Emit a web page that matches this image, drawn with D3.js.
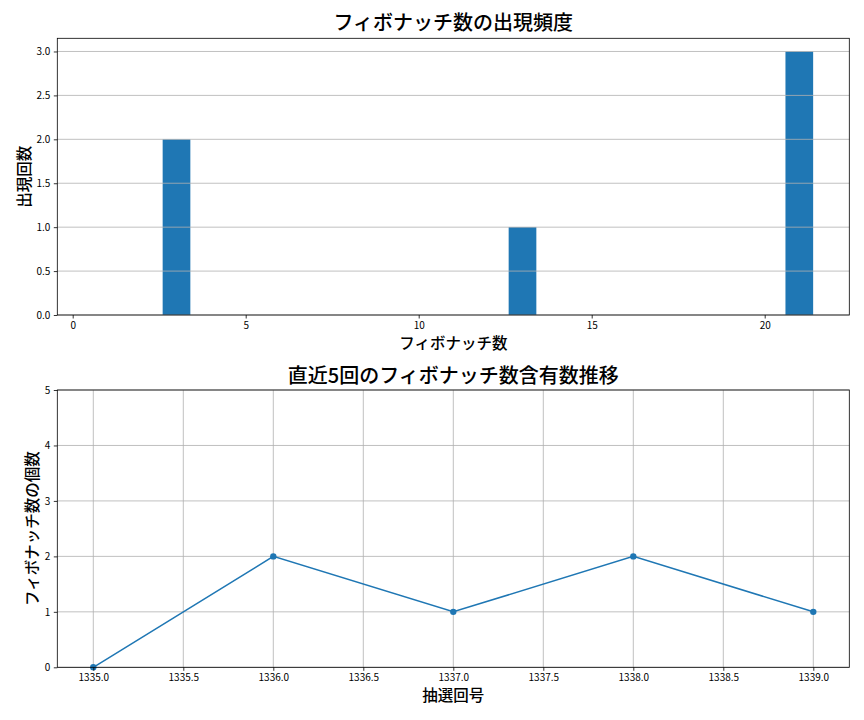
<!DOCTYPE html>
<html lang="ja">
<head>
    <meta charset="UTF-8">
    <title>フィボナッチ数</title>
    <script src="https://d3js.org/d3.v7.min.js"></script>
    <style>
        body { margin: 0; background: #fff; }
        text { font-family: "Noto Sans CJK JP", "Noto Sans", sans-serif; }
        .label { font-weight: 500; }
        .tick text { font-size: 10px; fill: #000; }
        .tick line { stroke: #000; stroke-width: 0.8; }
    </style>
</head>
<body>
    <script>
        // ヒストグラム: フィボナッチ数ごとの出現回数
        var fibNumbers = [1, 2, 3, 5, 8, 13, 21];
        var fibCounts  = [0, 0, 2, 0, 0, 1, 3];
        var histXTicks = [0, 5, 10, 15, 20];
        var histYTicks = [0, 0.5, 1, 1.5, 2, 2.5, 3];

        // 直近5回の推移
        var drawNos   = [1335, 1336, 1337, 1338, 1339];
        var fibInDraw = [0, 2, 1, 2, 1];
        var lineXTicks = [1335, 1335.5, 1336, 1336.5, 1337, 1337.5, 1338, 1338.5, 1339];
        var lineYTicks = [0, 1, 2, 3, 4, 5];

        var w = 864, h = 720;
        var blue = "#1f77b4";
        var gridColor = "#b0b0b0";

        var svg = d3.select("body")
                    .append("svg")
                    .attr("width", w)
                    .attr("height", h);

        var left = 57.3, right = 849.3;

        // ---- top: histogram ----
        var top1 = 38.3, bot1 = 315;
        var x1 = d3.scaleLinear().domain([-0.445, 22.445]).range([left, right]);
        var y1 = d3.scaleLinear().domain([0, 3.15]).range([bot1, top1]);

        var g1 = svg.append("g");

        g1.selectAll("rect.bar")
            .data(fibNumbers)
            .join("rect")
            .attr("class", "bar")
            .attr("x", d => x1(d - 0.4))
            .attr("width", d => x1(d + 0.4) - x1(d - 0.4))
            .attr("y", (d, i) => y1(fibCounts[i]))
            .attr("height", (d, i) => bot1 - y1(fibCounts[i]))
            .attr("fill", blue);

        // horizontal grid (drawn over the bars like matplotlib)
        g1.selectAll("line.grid")
            .data(histYTicks)
            .join("line")
            .attr("class", "grid")
            .attr("x1", left).attr("x2", right)
            .attr("y1", d => y1(d)).attr("y2", d => y1(d))
            .attr("stroke", gridColor)
            .attr("stroke-width", 0.8);

        g1.append("g")
            .attr("transform", "translate(0," + bot1 + ")")
            .call(d3.axisBottom(x1).tickValues(histXTicks).tickSize(3.5).tickPadding(3.5).tickFormat(d3.format("d")))
            .call(g => g.select(".domain").remove());

        g1.append("g")
            .attr("transform", "translate(" + left + ",0)")
            .call(d3.axisLeft(y1).tickValues(histYTicks).tickSize(3.5).tickPadding(3.5).tickFormat(d3.format(".1f")))
            .call(g => g.select(".domain").remove());

        g1.append("rect")
            .attr("x", left).attr("y", top1)
            .attr("width", right - left).attr("height", bot1 - top1)
            .attr("fill", "none").attr("stroke", "#000").attr("stroke-width", 0.8);

        g1.append("text")
            .attr("class", "label")
            .attr("x", (left + right) / 2).attr("y", 30)
            .attr("text-anchor", "middle")
            .style("font-size", "20px")
            .text("フィボナッチ数の出現頻度");

        g1.append("text")
            .attr("class", "label")
            .attr("x", (left + right) / 2).attr("y", 349)
            .attr("text-anchor", "middle")
            .style("font-size", "15.5px")
            .text("フィボナッチ数");

        g1.append("text")
            .attr("class", "label")
            .attr("transform", "translate(30," + (top1 + bot1) / 2 + ") rotate(-90)")
            .attr("text-anchor", "middle")
            .style("font-size", "15.5px")
            .text("出現回数");

        // ---- bottom: line chart ----
        var top2 = 390, bot2 = 667.3;
        var x2 = d3.scaleLinear().domain([1334.8, 1339.2]).range([left, right]);
        var y2 = d3.scaleLinear().domain([0, 5]).range([bot2, top2]);

        var g2 = svg.append("g");

        g2.selectAll("line.vgrid")
            .data(lineXTicks)
            .join("line")
            .attr("class", "vgrid")
            .attr("x1", d => x2(d)).attr("x2", d => x2(d))
            .attr("y1", top2).attr("y2", bot2)
            .attr("stroke", gridColor).attr("stroke-width", 0.8);

        g2.selectAll("line.hgrid")
            .data(lineYTicks)
            .join("line")
            .attr("class", "hgrid")
            .attr("x1", left).attr("x2", right)
            .attr("y1", d => y2(d)).attr("y2", d => y2(d))
            .attr("stroke", gridColor).attr("stroke-width", 0.8);

        var line = d3.line()
                     .x((d, i) => x2(drawNos[i]))
                     .y(d => y2(d));

        g2.append("path")
            .datum(fibInDraw)
            .attr("d", line)
            .attr("fill", "none")
            .attr("stroke", blue)
            .attr("stroke-width", 1.5);

        g2.selectAll("circle")
            .data(fibInDraw)
            .join("circle")
            .attr("cx", (d, i) => x2(drawNos[i]))
            .attr("cy", d => y2(d))
            .attr("r", 3.2)
            .attr("fill", blue);

        g2.append("g")
            .attr("transform", "translate(0," + bot2 + ")")
            .call(d3.axisBottom(x2).tickValues(lineXTicks).tickSize(3.5).tickPadding(3.5).tickFormat(d3.format(".1f")))
            .call(g => g.select(".domain").remove());

        g2.append("g")
            .attr("transform", "translate(" + left + ",0)")
            .call(d3.axisLeft(y2).tickValues(lineYTicks).tickSize(3.5).tickPadding(3.5).tickFormat(d3.format("d")))
            .call(g => g.select(".domain").remove());

        g2.append("rect")
            .attr("x", left).attr("y", top2)
            .attr("width", right - left).attr("height", bot2 - top2)
            .attr("fill", "none").attr("stroke", "#000").attr("stroke-width", 0.8);

        g2.append("text")
            .attr("class", "label")
            .attr("x", (left + right) / 2).attr("y", 383)
            .attr("text-anchor", "middle")
            .style("font-size", "20px")
            .text("直近5回のフィボナッチ数含有数推移");

        g2.append("text")
            .attr("class", "label")
            .attr("x", (left + right) / 2).attr("y", 701)
            .attr("text-anchor", "middle")
            .style("font-size", "15.5px")
            .text("抽選回号");

        g2.append("text")
            .attr("class", "label")
            .attr("transform", "translate(38," + (top2 + bot2) / 2 + ") rotate(-90)")
            .attr("text-anchor", "middle")
            .style("font-size", "15.5px")
            .text("フィボナッチ数の個数");
    </script>
</body>
</html>
